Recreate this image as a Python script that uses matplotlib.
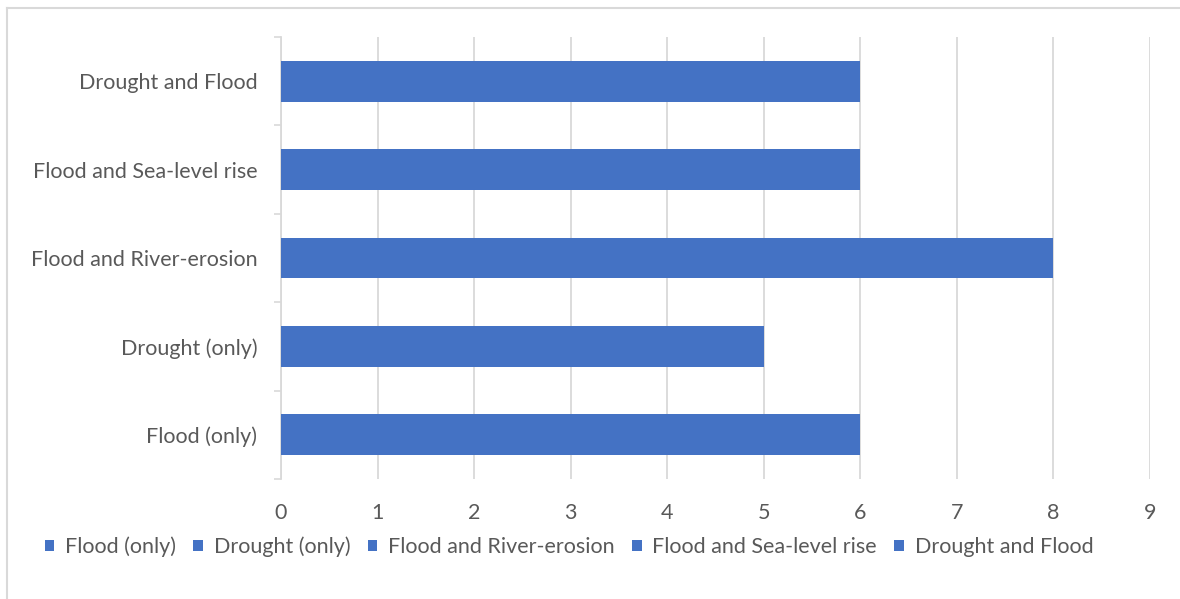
import matplotlib.pyplot as plt
from matplotlib.lines import Line2D

# data
categories = ["Flood (only)", "Drought (only)", "Flood and River-erosion",
              "Flood and Sea-level rise", "Drought and Flood"]
values = [6, 5, 8, 6, 6]
x_ticks = list(range(0, 10))

bar_color = "#4472C4"
text_color = "#595959"
grid_color = "#D9D9D9"

plt.rcParams['font.family'] = ['Lato', 'DejaVu Sans']
fs = 15.5

fig = plt.figure(figsize=(11.8, 5.99), dpi=100)
ax = fig.add_axes([281 / 1180, 1 - 479 / 599, (1150 - 281) / 1180, (479 - 37) / 599])

# chart border (only top and left visible in the reference)
fig.add_artist(Line2D([7 / 1180, 7 / 1180], [0, 1 - 8 / 599], transform=fig.transFigure,
                      color=grid_color, lw=1.5))
fig.add_artist(Line2D([7 / 1180, 1], [1 - 8 / 599, 1 - 8 / 599], transform=fig.transFigure,
                      color=grid_color, lw=1.5))

for i, (cat, val) in enumerate(zip(categories, values)):
    ax.barh(i, val, height=0.46, color=bar_color, label=cat, zorder=3)

ax.set_xlim(0, 9)
ax.set_ylim(-0.5, len(categories) - 0.5)
ax.set_xticks(x_ticks)
ax.set_xticklabels([str(t) for t in x_ticks], fontsize=fs, color=text_color)
ax.set_yticks(range(len(categories)))
ax.set_yticklabels(categories, fontsize=fs, color=text_color)
ax.tick_params(axis='x', length=0, pad=17)
ax.tick_params(axis='y', length=0, pad=17)

# tick marks between categories on the category axis
ax.set_yticks([i - 0.5 for i in range(len(categories) + 1)], minor=True)
ax.tick_params(axis='y', which='minor', length=5, color=grid_color, width=1.2)

ax.grid(axis='x', color=grid_color, lw=1.3, zorder=0)
for s in ['top', 'right', 'bottom']:
    ax.spines[s].set_visible(False)
ax.spines['left'].set_color(grid_color)
ax.spines['left'].set_linewidth(1.3)

leg = fig.legend(loc='center', bbox_to_anchor=(569 / 1180, 1 - 547 / 599), ncol=5,
                 frameon=False, fontsize=fs, handlelength=0.45, handleheight=0.45,
                 handletextpad=0.5, columnspacing=0.8, labelcolor=text_color)

plt.savefig("out.png", dpi=100)
